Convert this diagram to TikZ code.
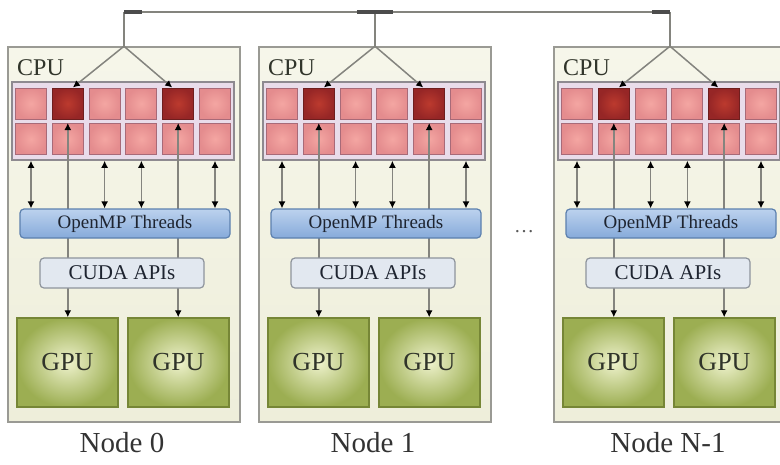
\documentclass[tikz,border=0pt]{standalone}
\usepackage{fontspec}
\setmainfont{Liberation Serif}
\usetikzlibrary{arrows.meta,positioning}

\pgfdeclarelayer{bg}
\pgfdeclarelayer{wires}
\pgfsetlayers{bg,wires,main}

\definecolor{hostline}{HTML}{9A9A94}
\definecolor{hosttop}{HTML}{F6F6EA}
\definecolor{hostbot}{HTML}{EEEEDA}
\definecolor{stripline}{HTML}{8E8A90}
\definecolor{stripfill}{HTML}{E9DCEA}
\definecolor{coreline}{HTML}{A86A78}
\definecolor{corein}{HTML}{F4A6A2}
\definecolor{coreout}{HTML}{E48C8E}
\definecolor{hotline}{HTML}{6E1E1E}
\definecolor{hotin}{HTML}{BC3A2E}
\definecolor{hotout}{HTML}{962626}
\definecolor{ompline}{HTML}{5C80AE}
\definecolor{omptop}{HTML}{BCD2EE}
\definecolor{ompbot}{HTML}{86AADA}
\definecolor{cudaline}{HTML}{8E949C}
\definecolor{cudafill}{HTML}{E2E8F0}
\definecolor{gpuline}{HTML}{768636}
\definecolor{gpuin}{HTML}{EEF2CC}
\definecolor{gpuout}{HTML}{9CAE52}
\definecolor{wiregray}{HTML}{84847E}
\definecolor{ink}{HTML}{1E2430}
\definecolor{cpuink}{HTML}{30342A}

\begin{document}
\begin{tikzpicture}[x=1pt, y=-1pt,
  blk/.tip = {Latex[length=7pt, width=7pt, color=black]},
  hostbox/.style = {draw=hostline, line width=1.5pt,
    top color=hosttop, bottom color=hostbot,
    minimum width=232pt, minimum height=375pt, inner sep=0pt},
  strip/.style = {draw=stripline, line width=1.5pt, fill=stripfill,
    minimum width=222pt, minimum height=78pt, inner sep=0pt},
  core/.style = {draw=coreline, line width=1pt,
    inner color=corein, outer color=coreout,
    minimum size=31pt, inner sep=0pt},
  hotcore/.style = {core, draw=hotline, inner color=hotin, outer color=hotout},
  ompbox/.style = {draw=ompline, line width=1.2pt, rounded corners=4pt,
    top color=omptop, bottom color=ompbot,
    minimum width=210pt, minimum height=29pt, inner sep=0pt,
    font=\fontsize{19}{19}\selectfont, text=ink},
  cudabox/.style = {draw=cudaline, line width=1.2pt, rounded corners=4pt,
    fill=cudafill, minimum width=164pt, minimum height=30pt, inner sep=0pt,
    font=\fontsize{21}{21}\selectfont, text=ink},
  gpubox/.style = {draw=gpuline, line width=1.5pt,
    inner color=gpuin, outer color=gpuout,
    minimum width=101pt, minimum height=89pt, inner sep=0pt,
    font=\fontsize{26}{26}\selectfont, text=cpuink},
  wire/.style = {draw=wiregray, line width=1.5pt},
  busmark/.style = {draw=black!70, line width=3.5pt},
  hostlabel/.style = {font=\fontsize{29}{29}\selectfont, text=black!80}]

\useasboundingbox (0,0) rectangle (780,464);

\foreach \n/\dx/\lbl in {0/0/Node 0, 1/251/Node 1, 2/546/Node N-1} {
  \begin{pgfonlayer}{bg}
    \node[hostbox] (host\n) at (124+\dx, 234.5) {};
    \node[strip] (strip\n) at (123+\dx, 121) {};
    \foreach \c/\s in {1/core, 2/hotcore, 3/core, 4/core, 5/hotcore, 6/core} {
      \node[\s] (c\n1\c) at ({31+36.8*(\c-1)+\dx}, 103.5) {};
      \node[core] (c\n2\c) at ({31+36.8*(\c-1)+\dx}, 139) {};
    }
  \end{pgfonlayer}

  \node[anchor=base west, inner sep=0pt, text=cpuink,
    font=\fontsize{24}{24}\selectfont] (cpu\n) at (17+\dx, 75) {CPU};
  \node[ompbox] (omp\n) at (125+\dx, 223.5) {OpenMP Threads};
  \node[cudabox] (cuda\n) at (122+\dx, 273) {CUDA APIs};
  \node[gpubox] (gpuA\n) at (67.5+\dx, 362.5) {GPU};
  \node[gpubox] (gpuB\n) at (178.5+\dx, 362.5) {GPU};
  \node[hostlabel] (name\n) at (122+\dx, 443) {\lbl};
  \coordinate (tap\n) at (124+\dx, 12);

  % links inside one node
  \begin{pgfonlayer}{wires}
    \draw[wire] (tap\n) -- (host\n.north);
    \draw[wire, -blk] (host\n.north) -- ([xshift=5pt]c\n12.north);
    \draw[wire, -blk] (host\n.north) -- ([xshift=-6pt]c\n15.north);
    \foreach \c in {2,5}
      \draw[wire, blk-blk] (c\n2\c.north) -- (c\n2\c |- gpuA\n.north);
    \foreach \c in {1,3,4,6}
      \draw[wire, blk-blk] (c\n2\c |- strip\n.south) -- (c\n2\c |- omp\n.north);
  \end{pgfonlayer}
}

% bus over the nodes
\draw[wire] (tap0) -- (tap2);
\draw[busmark] (tap0) -- ++(18,0);
\draw[busmark] ([xshift=-18pt]tap1) -- ++(36,0);
\draw[busmark] (tap2) -- ++(-18,0);

\node[text=black!65, font=\fontsize{20}{20}\selectfont] (dots) at (524, 232) {\dots};
\end{tikzpicture}
\end{document}
